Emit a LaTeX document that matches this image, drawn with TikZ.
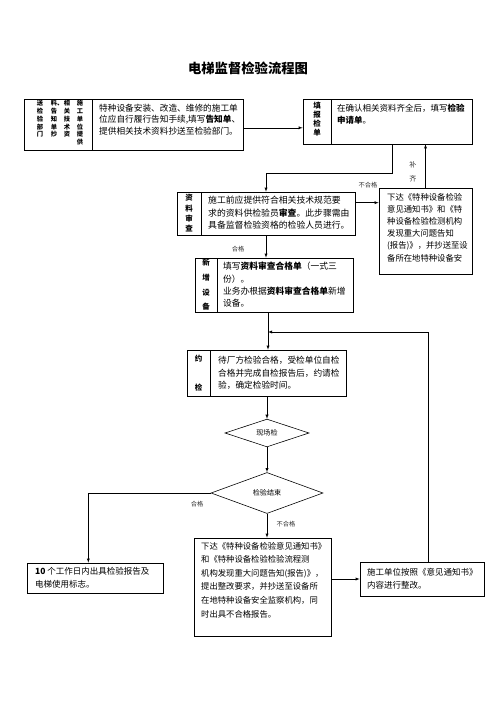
\documentclass[tikz,border=0pt]{standalone}
\usepackage{fontspec}
\setmainfont{Noto Sans CJK SC}
\usetikzlibrary{shapes.geometric,fit}

\begin{document}
\begin{tikzpicture}[x=1.2pt,y=-1.2pt,
	box/.style={draw,line width=0.8pt,inner sep=0pt},
	txt/.style 2 args={anchor=north west,align=left,inner sep=0pt,font=\fontsize{#1}{#2}\selectfont},
	lbl/.style={align=center,inner sep=0pt,font=\bfseries\fontsize{9}{#1}\selectfont},
	col/.style={anchor=north,align=center,inner sep=0pt,font=\bfseries\fontsize{7.5}{9.4}\selectfont},
	cond/.style={draw,diamond,line width=0.7pt,inner sep=0pt,font=\fontsize{8.5}{10}\selectfont},
	note/.style={inner sep=0pt,font=\fontsize{7.5}{9}\selectfont,text=black!80},
	line/.style={line width=0.7pt}]
	\useasboundingbox (0,0) rectangle (496,702);
	
	\node[font=\bfseries\fontsize{16}{18}\selectfont] (title) at (248,68) {电梯监督检验流程图};
	
	% boxes
	\node[box,fit={(24,99) (243,150)}] (b1) {};
	\node[box,fit={(303,99) (472,144)}] (b2) {};
	\node[box,fit={(177,192) (355,235)}] (b3) {};
	\node[box,fit={(379,188) (472,274)}] (b4) {};
	\node[box,fit={(195,258) (353,312)}] (b5) {};
	\node[box,fit={(187,350) (346,396)}] (b6) {};
	\node[box,fit={(27,563) (163,593)}] (b8) {};
	\node[box,fit={(194,538) (331,636)}] (b9) {};
	\node[box,fit={(360,562) (484,596)}] (b10) {};
	\node[cond,minimum width=100.8pt,minimum height=31.2pt] (d1) at (267,433) {现场检};
	\node[cond,minimum width=134.4pt,minimum height=49.2pt] (d2) at (267,493) {检验结束};
	
	% dividers
	\draw[line width=0.8pt] (92,99) -- (92,150);
	\draw[line width=0.8pt] (331,99) -- (331,144);
	\draw[line width=0.8pt] (201,192) -- (201,235);
	\draw[line width=0.8pt] (217,258) -- (217,312);
	\draw[line width=0.8pt] (210,350) -- (210,396);
	
	% labels
	\node[col] (c1) at (80,100) {施\\工\\单\\位\\提\\供};
	\node[col] (c2) at (67,100) {相\\关\\技\\术\\资};
	\node[col] (c3) at (54,100) {料\rlap{、}\\告\\知\\单\\抄};
	\node[col] (c4) at (40,100) {送\\检\\验\\部\\门};
	\node[lbl=10.8pt] (l2) at (317,119.5) {填\\报\\检\\单};
	\node[lbl=12.4pt] (l3) at (189,213.5) {资\\料\\审\\查};
	\node[lbl=17.6pt] (l5) at (206,285) {新\\增\\设\\备};
	\node[lbl=35pt] (l6) at (198.5,373.5) {约\\检};
	
	% texts
	\node[txt={10.4}{13.8pt}] (t1) at (99,104) {特种设备安装、改造、维修的施工单\\位应自行履行告知手续,填写\textbf{告知单}、\\提供相关技术资料抄送至检验部门。};
	\node[txt={10.2}{14pt}] (t2) at (337,104) {在确认相关资料齐全后，填写\textbf{检验}\\\textbf{申请单}。};
	\node[txt={10.6}{15pt}] (t3) at (208,196) {施工前应提供符合相关技术规范要\\求的资料供检验员\textbf{审查}。此步骤需由\\具备监督检验资格的检验人员进行。};
	\node[txt={10}{14.6pt}] (t4) at (387,193) {下达《特种设备检验\\意见通知书》和《特\\种设备检验检测机构\\发现重大问题告知\\(报告)》，并抄送至设\\备所在地特种设备安};
	\node[txt={10.5}{14.8pt}] (t5) at (223,262) {填写\textbf{资料审查合格单}（一式三\\份）。\\业务办根据\textbf{资料审查合格单}新增\\设备。};
	\node[txt={10.4}{15pt}] (t6) at (218,356) {待厂方检验合格，受检单位自检\\合格并完成自检报告后，约请检\\验，确定检验时间。};
	\node[txt={10.2}{15.6pt}] (t8) at (35,567) {\textbf{10} 个工作日内出具检验报告及\\电梯使用标志。};
	\node[txt={10}{16.3pt}] (t9) at (201,542) {下达《特种设备检验意见通知书》\\和《特种设备检验检验流程测\\机构发现重大问题告知(报告)》，\\提出整改要求，并抄送至设备所\\在地特种设备安全监察机构，同\\时出具不合格报告。};
	\node[txt={10.2}{15.6pt}] (t10) at (367,568) {施工单位按照《意见通知书》\\内容进行整改。};
	
	% connectors
	\coordinate (j) at (268,332);
	\draw[line,-latex] ([yshift=-4pt]b1.east) -- ([yshift=-4pt]b1.east -| b2.west);
	\draw[line,-latex] ([xshift=6pt]b2.south) -- ++(0,29) -| (b3.north);
	\draw[line,-latex] ([yshift=13pt]b3.east) -- ([yshift=13pt]b3.east -| b4.west);
	\draw[line,-latex] (b4.north) -- (b4.north |- b2.south);
	\draw[line,-latex] (b3.south) -- (b3.south |- b5.north);
	\draw[line,-latex] (b5.south -| j) -- (b6.north -| j);
	\draw[line,-latex] ([xshift=8pt]b10.north) |- (j);
	\draw[line,-latex] (b6.south -| d1.north) -- (d1.north);
	\draw[line,-latex] (d1.south) -- (d2.north);
	\draw[line,-latex] (d2.west) -| ([xshift=-8pt]b8.north);
	\draw[line,-latex] (d2.south) -- (d2.south |- b9.north);
	\draw[line,-latex] (b9.east |- b10.west) -- (b10.west);
	
	% notes
	\node[note] (n1) at (368,185) {不合格};
	\node[note,align=center,font=\fontsize{8.5}{17}\selectfont] (n2) at (413,172) {补\\齐};
	\node[note] (n3) at (238,249) {合格};
	\node[note] (n4) at (197,504) {合格};
	\node[note] (n5) at (286,524) {不合格};
\end{tikzpicture}
\end{document}
